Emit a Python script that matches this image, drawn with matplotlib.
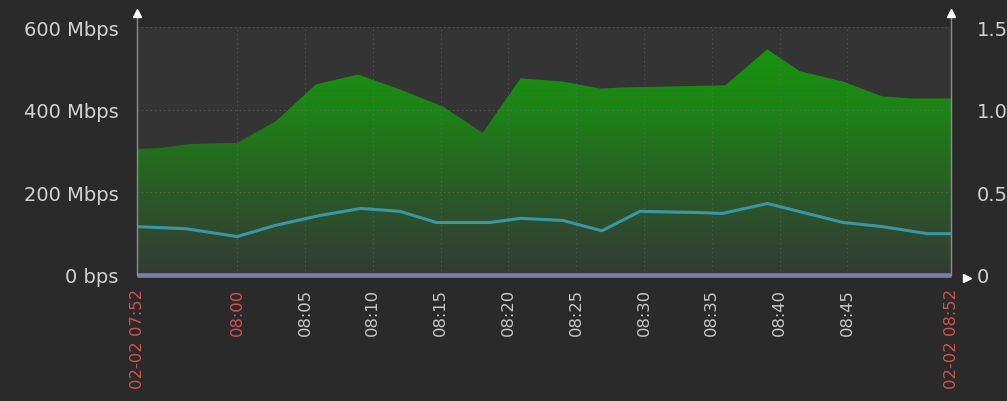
import matplotlib
matplotlib.use('Agg')
import matplotlib.pyplot as plt
import numpy as np
from matplotlib.colors import LinearSegmentedColormap
from matplotlib.patches import Polygon

# time in minutes after 07:00
in_t = [52.6, 54.3, 56.5, 60.0, 62.8, 65.8, 68.9, 72.0, 75.2, 78.1, 80.9,
        84.0, 86.8, 88.6, 91.7, 96.0, 99.1, 101.5, 104.7, 107.6, 109.9, 112.65]
in_mbps = [305, 307, 317, 320, 371, 461, 485, 449, 407, 344, 476,
           468, 451, 454, 456, 459, 546, 493, 468, 432, 427, 427]

out_t = [52.6, 56.2, 60.0, 62.8, 66.1, 69.1, 72.0, 74.7, 78.6, 80.9, 84.0,
         86.9, 89.7, 94.1, 95.8, 99.1, 104.7, 107.6, 110.9, 112.65]
out_mbps = [117, 112, 93, 120, 144, 161, 154, 127, 127, 137, 132,
            107, 154, 151, 149, 173, 127, 117, 100, 100]

err_t = [52.6, 112.65]
err_vals = [0, 0]

left_ticks = [0, 200, 400, 600]
left_labels = ['0 bps', '200 Mbps', '400 Mbps', '600 Mbps']
right_ticks = [0, 0.5, 1.0, 1.5]
right_labels = ['0', '0.5', '1.0', '1.5']
time_ticks = [60, 65, 70, 75, 80, 85, 90, 95, 100, 105]
time_labels = ['08:00', '08:05', '08:10', '08:15', '08:20', '08:25',
               '08:30', '08:35', '08:40', '08:45']
start_label = '02-02 07:52'
end_label = '02-02 08:52'

fig = plt.figure(figsize=(10.07, 4.02), dpi=100, facecolor='#2a2a2a')
ax = fig.add_axes([137 / 1007, 1 - 276 / 402, 814 / 1007, 248 / 402])
ax.set_facecolor('#343434')
xmin, xmax = in_t[0], in_t[-1]

# green gradient area clipped to the incoming traffic shape
cmap = LinearSegmentedColormap.from_list('g', ['#343a36', '#2a5a26', '#1d8316', '#17980d'])
grad = np.linspace(0, 1, 256).reshape(-1, 1)
im = ax.imshow(grad, extent=[xmin, xmax, 0, 600], origin='lower',
               aspect='auto', cmap=cmap, zorder=2)
verts = list(zip(in_t, in_mbps)) + [(in_t[-1], 0), (in_t[0], 0)]
patch = Polygon(verts, closed=True, facecolor='none', edgecolor='none')
ax.add_patch(patch)
im.set_clip_path(patch)

ax.plot(out_t, out_mbps, color='#3a95a6', lw=2.2, zorder=3)
ax.plot(err_t, err_vals, color='#7c7ca6', lw=3.4, zorder=4, clip_on=False,
        solid_capstyle='butt')

ax.set_xlim(xmin, xmax)
ax.set_ylim(0, 600)

# grid
for y in left_ticks[1:]:
    ax.axhline(y, color='#777777', lw=0.8, ls=(0, (1, 3)), alpha=0.6, zorder=2.5)
for x in time_ticks:
    ax.axvline(x, color='#777777', lw=0.8, ls=(0, (1, 3)), alpha=0.5, zorder=2.5)

for s in ax.spines.values():
    s.set_visible(False)

# axis lines with arrows
top = 1 + 14 / 248
ax.plot([0, 0], [0, top], transform=ax.transAxes, color='#8c8c8c', lw=1, clip_on=False, zorder=5)
ax.plot([1, 1], [0, top], transform=ax.transAxes, color='#8c8c8c', lw=1, clip_on=False, zorder=5)
ax.plot(0, top, marker='^', color='white', ms=6, transform=ax.transAxes, clip_on=False, zorder=6)
ax.plot(1, top, marker='^', color='white', ms=6, transform=ax.transAxes, clip_on=False, zorder=6)
ax.plot(1.02, -0.012, marker='>', color='white', ms=6, transform=ax.transAxes, clip_on=False, zorder=6)

ax.set_yticks(left_ticks)
ax.set_yticklabels(left_labels)
ax.tick_params(axis='y', length=0, pad=13.5, labelsize=14, labelcolor='#d2d2d2')

ax.set_xticks([xmin] + time_ticks + [xmax])
ax.set_xticklabels([start_label] + time_labels + [end_label], rotation=90)
ax.tick_params(axis='x', length=0, pad=9.5, labelsize=11.8)
for i, lbl in enumerate(ax.get_xticklabels()):
    if i == 0 or i == 1 or i == len(time_ticks) + 1:
        lbl.set_color('#d05252')
    else:
        lbl.set_color('#c8c8c8')

ax2 = ax.twinx()
ax2.set_ylim(0, 1.5)
ax2.set_yticks(right_ticks)
ax2.set_yticklabels(right_labels)
ax2.tick_params(axis='y', length=0, pad=18.5, labelsize=14, labelcolor='#d2d2d2')
for s in ax2.spines.values():
    s.set_visible(False)

fig.savefig('out.png', dpi=100, facecolor=fig.get_facecolor())
